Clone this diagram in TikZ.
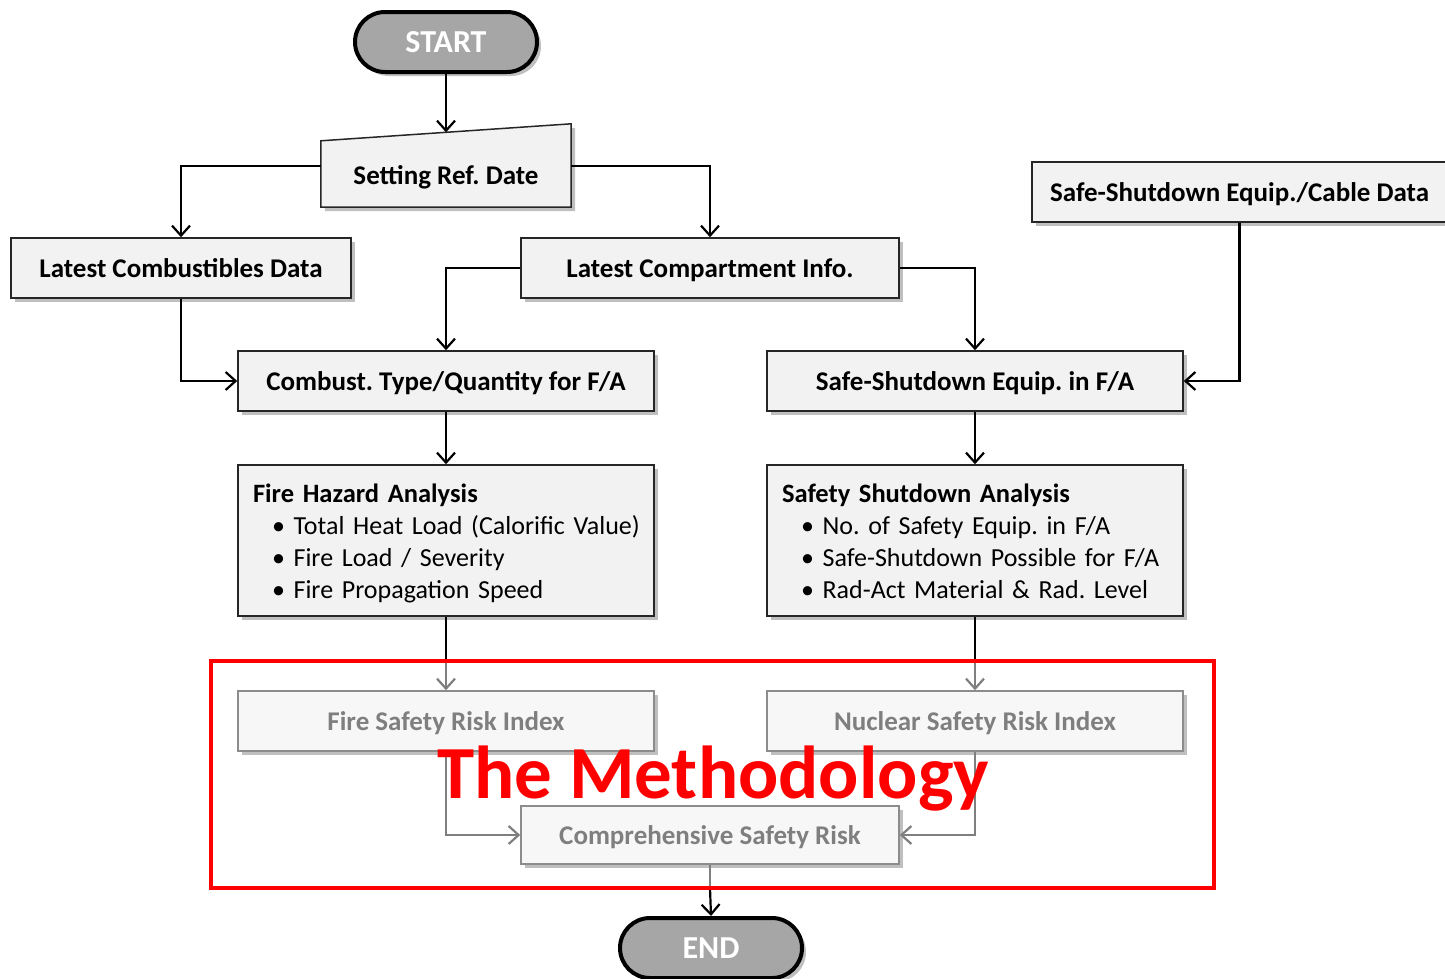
\documentclass[tikz,border=0pt]{standalone}
\usepackage{fontspec}
\setmainfont{Carlito}
\usetikzlibrary{arrows.meta,shadows,calc}
\definecolor{boxfill}{HTML}{F2F2F2}
\definecolor{boxline}{HTML}{262626}
\definecolor{gfill}{HTML}{F7F7F7}
\definecolor{gline}{HTML}{8C8C8C}
\definecolor{gtext}{HTML}{7F7F7F}
\definecolor{termfill}{HTML}{A6A6A6}
\tikzset{
  shd/.style={drop shadow={shadow xshift=4pt,shadow yshift=-4pt,opacity=0.25,fill=black}},
  procbox/.style={draw=boxline,line width=1.5pt,fill=boxfill,shd,rectangle,
    minimum height=60pt,inner sep=0pt,text height=20pt,text depth=2pt,
    font=\fontsize{27}{32}\selectfont\bfseries,text=black},
  graybox/.style={draw=gline,line width=1.5pt,fill=gfill,shd,rectangle,
    minimum height=60pt,inner sep=0pt,text height=20pt,text depth=2pt,
    font=\fontsize{27}{32}\selectfont\bfseries,text=gtext},
  listbox/.style={draw=boxline,line width=1.5pt,fill=boxfill,shd,rectangle,
    minimum height=151pt,text width=386pt,inner xsep=15pt,inner ysep=0pt,align=left,
    font=\fontsize{26}{32}\selectfont,text=black},
  term/.style={draw=black,line width=4pt,fill=termfill,shd,rounded corners=30pt,
    minimum width=182pt,minimum height=60pt,inner sep=0pt,
    font=\fontsize{32}{36}\selectfont\bfseries,text=white},
  arr/.style={draw=black,line width=2.2pt,-{Straight Barb[length=10pt,width=18pt,line width=2.2pt]}},
  blk/.style={draw=black,line width=2.2pt},
  garr/.style={draw=gtext,line width=2.2pt,-{Straight Barb[length=10pt,width=18pt,line width=2.2pt]}},
  gln/.style={draw=gtext,line width=2.2pt},
}
\newcommand{\blt}[1]{\mbox{\strut\hspace*{19pt}•\ #1}}
\newcommand{\hdr}[1]{\mbox{\rule[-9.6pt]{0pt}{40pt}\fontsize{26.5}{32}\selectfont\bfseries #1}}
\begin{document}
\frenchspacing
\begin{tikzpicture}[x=1pt,y=-1pt]
\useasboundingbox (0,0) rectangle (1445,978);

% terminals
\node[term] (start) at (446,42) {START};
\node[term] (end) at (711,948) {END};

% manual input
\node[rectangle,minimum width=250pt,minimum height=66pt,inner sep=0pt] (set) at (446,174) {};
\filldraw[draw=boxline,line width=1.5pt,fill=boxfill,shd]
  (set.south west) -- (set.north west) -- ([yshift=17pt]set.north east) -- (set.south east) -- cycle;
\node[font=\fontsize{27}{32}\selectfont\bfseries,inner sep=0pt] (settxt) at (446,177) {Setting Ref. Date};

\node[procbox,minimum width=340pt] (lcd) at (181,268) {Latest Combustibles Data};
\node[procbox,minimum width=378pt] (lci) at (710,268) {Latest Compartment Info.};
\node[procbox,minimum width=415pt] (ssc) at (1239.5,192) {Safe-Shutdown Equip./Cable Data};
\node[procbox,minimum width=416pt] (ctq) at (446,381) {Combust. Type/Quantity for F/A};
\node[procbox,minimum width=416pt] (sse) at (975,381) {Safe-Shutdown Equip. in F/A};

\node[listbox] (fha) at (446,540.5) {\hdr{Fire Hazard Analysis}\\
\blt{Total Heat Load (Calorific Value)}\\
\blt{Fire Load / Severity}\\
\blt{Fire Propagation Speed}};
\node[listbox] (ssa) at (975,540.5) {\hdr{Safety Shutdown Analysis}\\
\blt{No. of Safety Equip. in F/A}\\
\blt{Safe-Shutdown Possible for F/A}\\
\blt{Rad-Act Material \& Rad. Level}};

\node[graybox,minimum width=416pt] (fsri) at (446,721) {Fire Safety Risk Index};
\node[graybox,minimum width=416pt] (nsri) at (975,721) {Nuclear Safety Risk Index};
\node[graybox,minimum width=378pt,minimum height=58pt] (csr) at (710,835) {Comprehensive Safety Risk};

\node[rectangle,minimum width=1003pt,minimum height=227pt,inner sep=0pt] (redbox) at (712.5,774.5) {};

% connectors
\draw[arr] (start.south) -- ([yshift=8.5pt]set.north);
\draw[arr] ([yshift=8pt]set.west) -| (lcd.north);
\draw[arr] ([yshift=8pt]set.east) -| (lci.north);
\draw[arr] (lcd.south) |- (ctq.west);
\draw[arr] (lci.west) -| (ctq.north);
\draw[arr] (lci.east) -| (sse.north);
\draw[arr] (ssc.south) |- (sse.east);
\draw[arr] (ctq.south) -- (fha.north);
\draw[arr] (sse.south) -- (ssa.north);
\draw[blk] (fha.south) -- (fha.south |- redbox.north);
\draw[garr] (fha.south |- redbox.north) -- (fsri.north);
\draw[blk] (ssa.south) -- (ssa.south |- redbox.north);
\draw[garr] (ssa.south |- redbox.north) -- (nsri.north);
\draw[garr] (fsri.south) |- (csr.west);
\draw[garr] (nsri.south) |- (csr.east);
\draw[gln] (csr.south) -- (csr.south |- redbox.south);
\draw[arr] (csr.south |- redbox.south) -- (end.north);

\draw[red,line width=4pt] (redbox.south west) rectangle (redbox.north east);
\node[text=red,font=\fontsize{75}{80}\selectfont\bfseries,inner sep=0pt] (meth) at (713,779) {The Methodology};
\end{tikzpicture}
\end{document}
